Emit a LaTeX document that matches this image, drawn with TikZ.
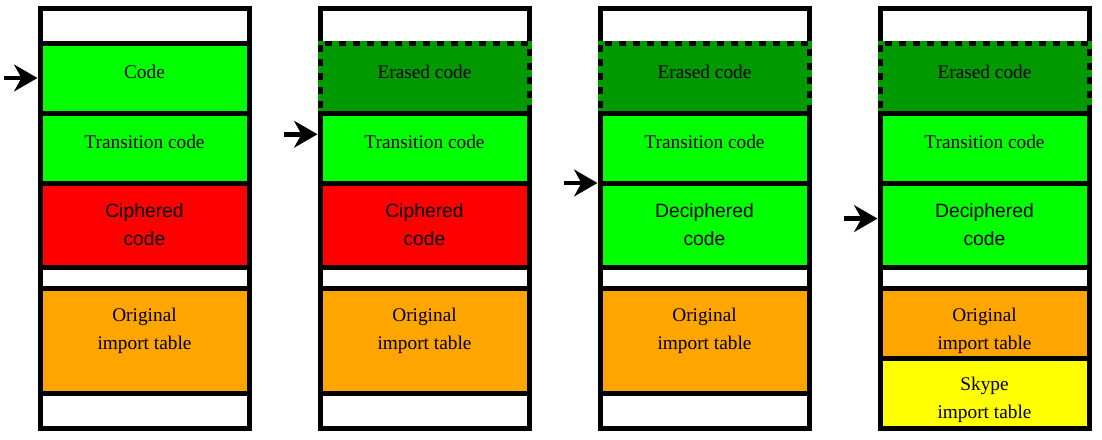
\documentclass[tikz,border=0pt]{standalone}
\usepackage{fontspec}
\setmainfont{Liberation Serif}
\setsansfont{Liberation Sans}
\usetikzlibrary{arrows.meta}
\usetikzlibrary{positioning}
\definecolor{codegreen}{RGB}{0,255,0}
\definecolor{erasedgreen}{RGB}{0,153,0}
\definecolor{ciphred}{RGB}{255,0,0}
\definecolor{importorange}{RGB}{255,165,0}
\definecolor{skypeyellow}{RGB}{255,255,0}

\begin{document}
\begin{tikzpicture}
 	\def \topy{-6.375pt}
 	\def \onel{-21.5pt}
 	\def \twol{-31.5pt}
 	\tikzstyle{cell}=[rectangle,draw=black,line width=3.75pt,inner sep=0pt,outer sep=0pt,minimum width=156.75pt]
 	\tikzstyle{blank}=[cell,fill=white]
 	\tikzstyle{erased}=[cell,fill=erasedgreen,dash pattern=on 5.25pt off 5.25pt,preaction={draw=erasedgreen,solid,line width=3.75pt}]
 	\tikzstyle{lbl}=[align=center,inner sep=0pt,font=\fontsize{14.5pt}{21pt}\selectfont]
 	\tikzstyle{slbl}=[lbl,font=\fontsize{14.5pt}{21pt}\selectfont\sffamily]
 	\tikzstyle{ptr}=[-{Stealth[length=17.5pt,width=20pt,inset=5.5pt]},line width=3.6pt,shorten >=1.875pt]
 	\useasboundingbox (0,0) rectangle (826.5pt,-329.25pt);

 	% column one
 	\node[blank,minimum height=25.875pt,anchor=north west] (c1top) at (30pt,\topy) {};
 	\node[cell,fill=codegreen,minimum height=52.5pt,below=0pt of c1top] (c1code) {};
 	\node[cell,fill=codegreen,minimum height=52.5pt,below=0pt of c1code] (c1trans) {};
 	\node[cell,fill=ciphred,minimum height=63.375pt,below=0pt of c1trans] (c1ciph) {};
 	\node[blank,minimum height=15.75pt,below=0pt of c1ciph] (c1gap) {};
 	\node[cell,fill=importorange,minimum height=78.375pt,below=0pt of c1gap] (c1orig) {};
 	\node[blank,minimum height=26.25pt,below=0pt of c1orig] (c1bot) {};
 	\node[lbl] (l1code) at ([yshift=\onel]c1code.north) {Code};
 	\node[lbl] (l1trans) at ([yshift=\onel]c1trans.north) {Transition code};
 	\node[slbl] (l1ciph) at ([yshift=\twol]c1ciph.north) {Ciphered\\code};
 	\node[lbl] (l1orig) at ([yshift=\twol]c1orig.north) {Original\\import table};

 	% column two
 	\node[blank,minimum height=25.875pt,anchor=north west] (c2top) at (240pt,\topy) {};
 	\node[erased,minimum height=52.5pt,below=0pt of c2top] (c2erased) {};
 	\node[cell,fill=codegreen,minimum height=52.5pt,below=0pt of c2erased] (c2trans) {};
 	\node[cell,fill=ciphred,minimum height=63.375pt,below=0pt of c2trans] (c2ciph) {};
 	\node[blank,minimum height=15.75pt,below=0pt of c2ciph] (c2gap) {};
 	\node[cell,fill=importorange,minimum height=78.375pt,below=0pt of c2gap] (c2orig) {};
 	\node[blank,minimum height=26.25pt,below=0pt of c2orig] (c2bot) {};
 	\node[lbl] (l2erased) at ([yshift=\onel]c2erased.north) {Erased code};
 	\node[lbl] (l2trans) at ([yshift=\onel]c2trans.north) {Transition code};
 	\node[slbl] (l2ciph) at ([yshift=\twol]c2ciph.north) {Ciphered\\code};
 	\node[lbl] (l2orig) at ([yshift=\twol]c2orig.north) {Original\\import table};

 	% column three
 	\node[blank,minimum height=25.875pt,anchor=north west] (c3top) at (450pt,\topy) {};
 	\node[erased,minimum height=52.5pt,below=0pt of c3top] (c3erased) {};
 	\node[cell,fill=codegreen,minimum height=52.5pt,below=0pt of c3erased] (c3trans) {};
 	\node[cell,fill=codegreen,minimum height=63.375pt,below=0pt of c3trans] (c3deci) {};
 	\node[blank,minimum height=15.75pt,below=0pt of c3deci] (c3gap) {};
 	\node[cell,fill=importorange,minimum height=78.375pt,below=0pt of c3gap] (c3orig) {};
 	\node[blank,minimum height=26.25pt,below=0pt of c3orig] (c3bot) {};
 	\node[lbl] (l3erased) at ([yshift=\onel]c3erased.north) {Erased code};
 	\node[lbl] (l3trans) at ([yshift=\onel]c3trans.north) {Transition code};
 	\node[slbl] (l3deci) at ([yshift=\twol]c3deci.north) {Deciphered\\code};
 	\node[lbl] (l3orig) at ([yshift=\twol]c3orig.north) {Original\\import table};

 	% column four
 	\node[blank,minimum height=25.875pt,anchor=north west] (c4top) at (660pt,\topy) {};
 	\node[erased,minimum height=52.5pt,below=0pt of c4top] (c4erased) {};
 	\node[cell,fill=codegreen,minimum height=52.5pt,below=0pt of c4erased] (c4trans) {};
 	\node[cell,fill=codegreen,minimum height=63.375pt,below=0pt of c4trans] (c4deci) {};
 	\node[blank,minimum height=15.75pt,below=0pt of c4deci] (c4gap) {};
 	\node[cell,fill=importorange,minimum height=52.125pt,below=0pt of c4gap] (c4orig) {};
 	\node[cell,fill=skypeyellow,minimum height=52.5pt,below=0pt of c4orig] (c4skype) {};
 	\node[lbl] (l4erased) at ([yshift=\onel]c4erased.north) {Erased code};
 	\node[lbl] (l4trans) at ([yshift=\onel]c4trans.north) {Transition code};
 	\node[slbl] (l4deci) at ([yshift=\twol]c4deci.north) {Deciphered\\code};
 	\node[lbl] (l4orig) at ([yshift=\twol]c4orig.north) {Original\\import table};
 	\node[lbl] (l4skype) at ([yshift=\twol]c4skype.north) {Skype\\import table};

 	% execution pointers
 	\coordinate (a1) at ([xshift=-27pt]c1code.west);
 	\coordinate (a2) at ([xshift=-27pt,yshift=10.3pt]c2trans.west);
 	\coordinate (a3) at ([xshift=-27pt]c3trans.south west);
 	\coordinate (a4) at ([xshift=-27pt,yshift=5pt]c4deci.west);
 	\draw[ptr] (a1) -- (c1code.west);
 	\draw[ptr] (a2) -- (a2 -| c2trans.west);
 	\draw[ptr] (a3) -- (c3trans.south west);
 	\draw[ptr] (a4) -- (a4 -| c4deci.west);
\end{tikzpicture}
\end{document}
